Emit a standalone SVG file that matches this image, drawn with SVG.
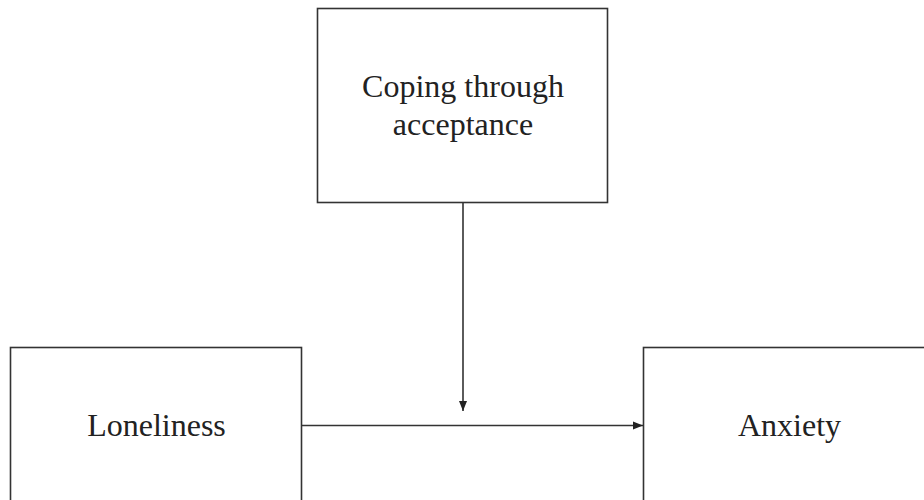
<svg xmlns="http://www.w3.org/2000/svg" width="924" height="500" viewBox="0 0 924 500">
<style>
.box{fill:#fff;stroke:#333;stroke-width:1.6}
.lbl{font-family:"Liberation Serif","Times New Roman",serif;font-size:32px;fill:#222;text-anchor:middle}
.edge{stroke:#333;stroke-width:1.6;fill:none}
</style>
<defs>
<marker id="ah" viewBox="0 0 10 10" refX="10" refY="5" markerWidth="10" markerHeight="10" markerUnits="userSpaceOnUse" orient="auto">
<path d="M0,1 L10,5 L0,9 Z" fill="#222"/>
</marker>
</defs>
<rect width="924" height="500" fill="#fff"/>
<g id="coping">
<rect class="box" x="317.5" y="8.5" width="290" height="194"/>
<text class="lbl" x="463" y="97">Coping through</text>
<text class="lbl" x="463" y="135">acceptance</text>
</g>
<g id="loneliness">
<rect class="box" x="10.5" y="347.5" width="291" height="170"/>
<text class="lbl" x="156.5" y="436">Loneliness</text>
</g>
<g id="anxiety">
<rect class="box" x="643.5" y="347.5" width="292" height="170"/>
<text class="lbl" x="789.5" y="436">Anxiety</text>
</g>
<g id="connectors">
<line class="edge" x1="302" y1="425.5" x2="643" y2="425.5" marker-end="url(#ah)"/>
<line class="edge" x1="463" y1="203" x2="463" y2="411" marker-end="url(#ah)"/>
</g>
</svg>
